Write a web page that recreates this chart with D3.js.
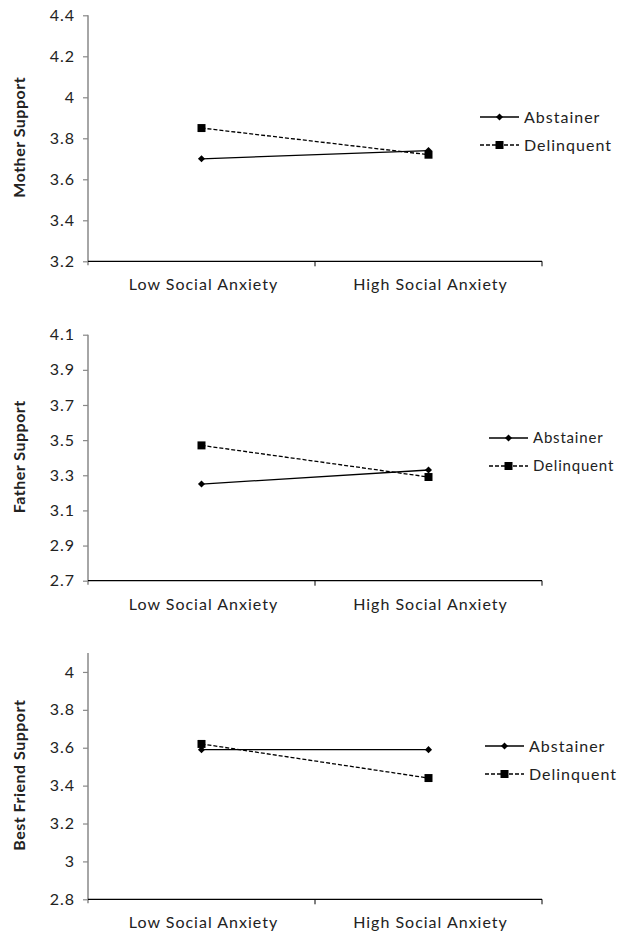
<!DOCTYPE html>
<html lang="en">
<head>
  <meta charset="UTF-8">
  <title>Social Anxiety and Support</title>
  <script src="https://d3js.org/d3.v7.min.js"></script>
  <style>
    body { margin: 0; background: #fff; }
    text { font-family: Lato, "Open Sans", sans-serif; fill: #222; }
  </style>
</head>
<body>
  <svg width="619" height="934"></svg>

  <script>
    // data
    const categories = ["Low Social Anxiety", "High Social Anxiety"];
    const seriesNames = ["Abstainer", "Delinquent"];

    const motherAbstainer = [3.70, 3.74];
    const motherDelinquent = [3.85, 3.72];
    const fatherAbstainer = [3.25, 3.33];
    const fatherDelinquent = [3.47, 3.29];
    const friendAbstainer = [3.59, 3.59];
    const friendDelinquent = [3.62, 3.44];

    const motherTicks = [3.2, 3.4, 3.6, 3.8, 4, 4.2, 4.4];
    const fatherTicks = [2.7, 2.9, 3.1, 3.3, 3.5, 3.7, 3.9, 4.1];
    const friendTicks = [2.8, 3, 3.2, 3.4, 3.6, 3.8, 4];

    const panels = [
      { title: "Mother Support", domain: [3.2, 4.4], ticks: motherTicks,
        series: [motherAbstainer, motherDelinquent], top: 15.3, bottom: 261.3,
        legendX: 480, legendY: 117, legendFont: 16, legendSpacing: 1 },
      { title: "Father Support", domain: [2.7, 4.1], ticks: fatherTicks,
        series: [fatherAbstainer, fatherDelinquent], top: 334.7, bottom: 580.7,
        legendX: 489, legendY: 438, legendFont: 15, legendSpacing: 0.8 },
      { title: "Best Friend Support", domain: [2.8, 4.1], ticks: friendTicks,
        series: [friendAbstainer, friendDelinquent], top: 653, bottom: 899.3,
        legendX: 485, legendY: 746, legendFont: 16, legendSpacing: 1 }
    ];

    const svg = d3.select("svg");
    const left = 88, right = 542;

    const x = d3.scaleBand().domain(categories).range([left, right]);

    panels.forEach(p => {
      const g = svg.append("g");
      const y = d3.scaleLinear().domain(p.domain).range([p.bottom, p.top]);

      // y axis (grey)
      const yAxis = g.append("g")
        .attr("transform", `translate(${left},0)`)
        .call(d3.axisLeft(y).tickValues(p.ticks).tickSize(5).tickPadding(8)
          .tickFormat(d => d3.format("")(+d.toFixed(1))));
      yAxis.select(".domain").attr("stroke", "#888").attr("stroke-width", 1.5)
        .attr("d", `M0,${p.top}V${p.bottom + 4}`);
      yAxis.selectAll(".tick line").attr("stroke", "#888").attr("stroke-width", 1.2);
      yAxis.selectAll(".tick text")
        .style("font-size", "16px")
        .style("letter-spacing", "1px")
        .attr("fill", "#222");

      // x axis (black) with ticks on band edges
      const xAxis = g.append("g").attr("transform", `translate(0,${p.bottom})`);
      xAxis.append("line")
        .attr("x1", left).attr("x2", right)
        .attr("stroke", "#000").attr("stroke-width", 1.2);
      xAxis.selectAll("line.edge")
        .data([x(categories[1]), right])
        .enter().append("line")
        .attr("class", "edge")
        .attr("x1", d => d).attr("x2", d => d)
        .attr("y1", 0).attr("y2", 5)
        .attr("stroke", "#000");
      xAxis.selectAll("text")
        .data(categories)
        .enter().append("text")
        .attr("x", d => x(d) + x.bandwidth() / 2 + 2)
        .attr("y", 29)
        .attr("text-anchor", "middle")
        .style("font-size", "16px")
        .style("letter-spacing", "1px")
        .text(d => d);

      // y title
      g.append("text")
        .attr("transform", `translate(25,${(p.top + p.bottom) / 2 - 1}) rotate(-90)`)
        .attr("text-anchor", "middle")
        .style("font-size", "16px")
        .style("font-weight", "bold")
        .style("letter-spacing", "0.5px")
        .attr("fill", "#000")
        .text(p.title);

      // lines
      const line = d3.line()
        .x((d, i) => x(categories[i]) + x.bandwidth() / 2)
        .y(d => y(d));

      p.series.forEach((vals, s) => {
        g.append("path")
          .datum(vals)
          .attr("fill", "none")
          .attr("stroke", "#000")
          .attr("stroke-width", 1.3)
          .attr("stroke-dasharray", s === 1 ? "4,2" : null)
          .attr("d", line);
      });

      // markers
      p.series.forEach((vals, s) => {
        g.selectAll(null)
          .data(vals)
          .enter().append("path")
          .attr("transform", (d, i) =>
            `translate(${x(categories[i]) + x.bandwidth() / 2},${y(d)})` + (s === 0 ? " rotate(45)" : ""))
          .attr("d", s === 0 ? "M-2.5,-2.5H2.5V2.5H-2.5Z" : "M-4,-4H4V4H-4Z")
          .attr("fill", "#000");
      });

      // legend
      const lg = g.append("g").attr("transform", `translate(${p.legendX},${p.legendY})`);
      seriesNames.forEach((name, s) => {
        const row = lg.append("g").attr("transform", `translate(0,${s * 28})`);
        row.append("line")
          .attr("x1", 0).attr("x2", 39)
          .attr("stroke", "#000").attr("stroke-width", 1.3)
          .attr("stroke-dasharray", s === 1 ? "4,2" : null);
        row.append("path")
          .attr("transform", `translate(19.5,0)` + (s === 0 ? " rotate(45)" : ""))
          .attr("d", s === 0 ? "M-2.5,-2.5H2.5V2.5H-2.5Z" : "M-4,-4H4V4H-4Z")
          .attr("fill", "#000");
        row.append("text")
          .attr("x", 44)
          .attr("dy", "0.35em")
          .style("font-size", p.legendFont + "px")
          .style("letter-spacing", p.legendSpacing + "px")
          .text(name);
      });
    });
  </script>
</body>
</html>
